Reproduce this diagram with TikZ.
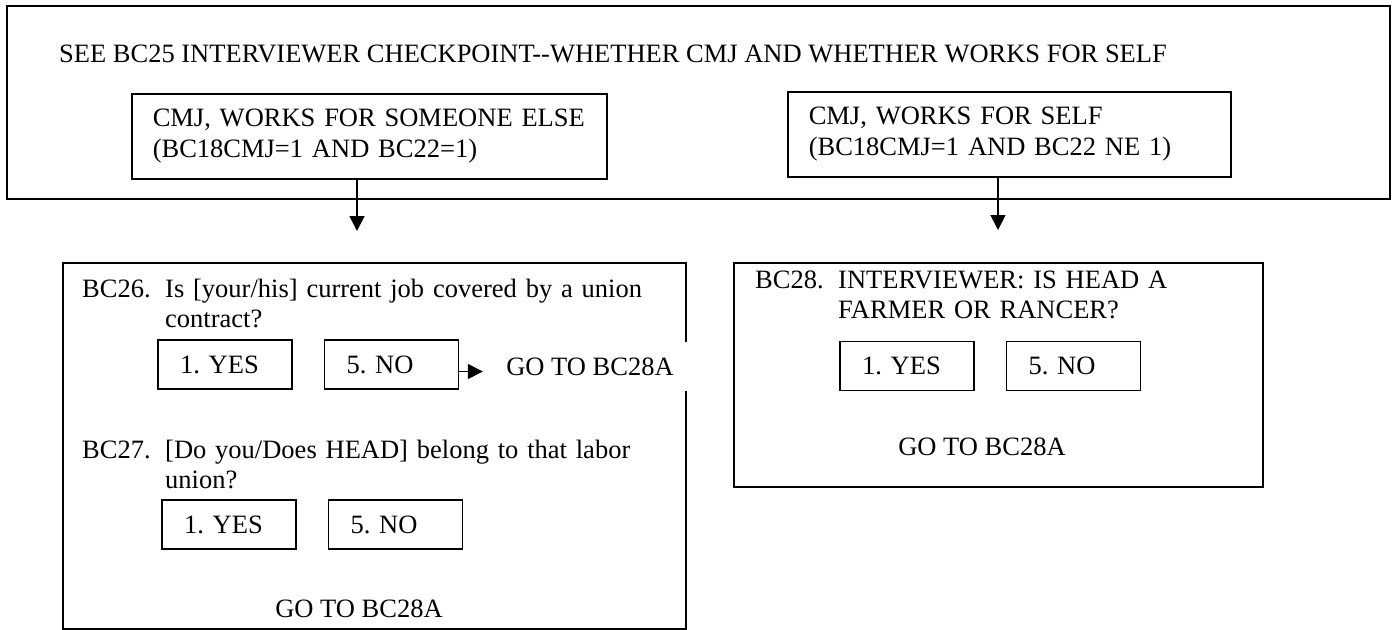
\documentclass[tikz,border=0pt]{standalone}
\usepackage{fontspec}
\setmainfont{Liberation Serif}
\usetikzlibrary{positioning,arrows.meta}
\frenchspacing
\tikzset{%
  font=\fontsize{26.5}{30.5}\selectfont,
  >={Triangle[length=15pt,width=15pt]},
  frame/.style={draw,line width=1.5pt,anchor=north west,inner sep=0pt},
  cond box/.style={draw,line width=1.5pt,anchor=north west,align=left,inner xsep=21pt,minimum height=85pt},
  answer/.style={draw,line width=1.5pt,text width=90pt,align=left,inner xsep=22pt,inner ysep=0pt,minimum height=49pt},
  qnum/.style={anchor=base west,inner sep=0pt},
  question/.style={anchor=base west,inner sep=0pt,align=left,text width=520pt},
  goto/.style={fill=white,minimum width=200pt,minimum height=49pt,inner sep=0pt},
  flow/.style={->,line width=1.6pt}
}
\begin{document}
\begin{tikzpicture}[x=1pt,y=-1pt]
\useasboundingbox (0,0) rectangle (1396,629);
% checkpoint
\node[frame,minimum width=1383pt,minimum height=193pt] (check) at (6,5) {};
\node[qnum] (seetext) at (59,62) {SEE BC25 INTERVIEWER CHECKPOINT-{}-WHETHER CMJ AND WHETHER WORKS FOR SELF};
\node[cond box,text width=433pt] (else) at (131,93) {CMJ, WORKS FOR SOMEONE ELSE\\(BC18CMJ=1 AND BC22=1)};
\node[cond box,text width=401pt] (self) at (787,91) {CMJ, WORKS FOR SELF\\(BC18CMJ=1 AND BC22 NE 1)};
\coordinate (tipL) at (357,231);
\coordinate (tipR) at (998,230);
\draw[flow] (else.south -| tipL) -- (tipL);
\draw[flow] (self.south -| tipR) -- (tipR);

% union questions
\node[frame,minimum width=623pt,minimum height=366pt] (union) at (62,262) {};
\node[qnum] (bc26) at (82,297) {BC26.};
\node[question] (q26) at (165,297) {Is [your/his] current job covered by a union\\contract?};
\node[answer] (yes26) at (225,364.5) {1. YES};
\node[answer,right=31pt of yes26] (no26) {5. NO};
\node[goto] (goto26) at (590,366.5) {GO TO BC28A};
\draw[flow,shorten >=7pt] ([yshift=-7pt]no26.east) -- ([yshift=-7pt]no26.east -| goto26.west);
\node[qnum] (bc27) at (82,458) {BC27.};
\node[question] (q27) at (165,458) {[Do you/Does HEAD] belong to that labor\\union?};
\node[answer] (yes27) at (229,524.5) {1. YES};
\node[answer,right=31pt of yes27] (no27) {5. NO};
\node[anchor=base] (goto27) at (359,617) {GO TO BC28A};

% farmer question
\node[frame,minimum width=529pt,minimum height=224pt] (farm) at (733,262) {};
\node[qnum] (bc28) at (755,288) {BC28.};
\node[question] (q28) at (838,288) {INTERVIEWER: IS HEAD A\\FARMER OR RANCER?};
\node[answer] (yes28) at (907,366) {1. YES};
\node[answer,right=31pt of yes28] (no28) {5. NO};
\node[anchor=base] (goto28) at (982,455) {GO TO BC28A};
\end{tikzpicture}
\end{document}
